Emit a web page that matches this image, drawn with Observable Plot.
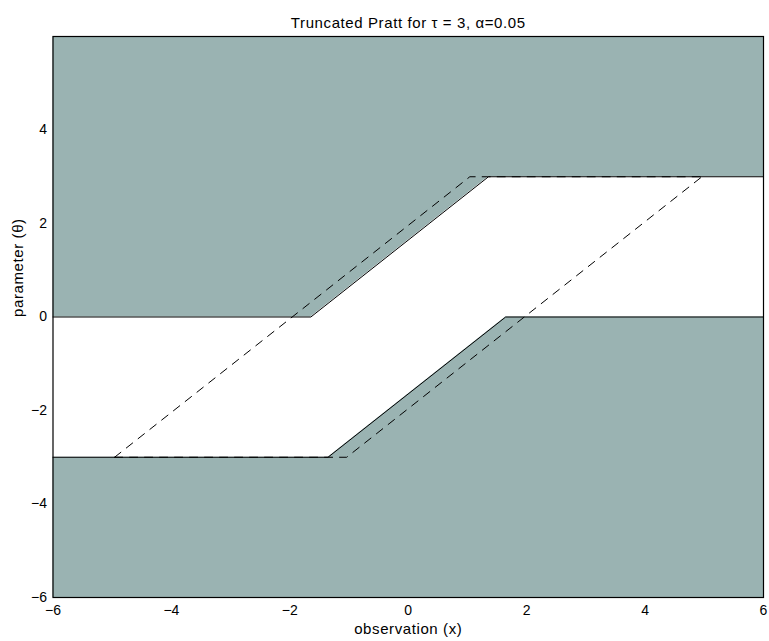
<!DOCTYPE html>
<html>
<head>
<meta charset="utf-8">
<script src="https://cdn.jsdelivr.net/npm/d3@7"></script>
<script src="https://cdn.jsdelivr.net/npm/@observablehq/plot@0.6"></script>
<style>
  html, body { margin: 0; padding: 0; background: #fff; }
  svg { display: block; }
  .lbl text { letter-spacing: 0.6px; }
</style>
</head>
<body>
<div id="chart"></div>
<script>
// Upper rejection region boundary (shaded above)
const upperX = [-6, -1.645, 1.355, 6];
const upperY = [0, 0, 3, 3];
// Lower rejection region boundary (shaded below)
const lowerX = [-6, -1.355, 1.645, 6];
const lowerY = [-3, -3, 0, 0];
// Dashed reference intervals
const dashAX = [-4.96, 1.04, 4.96];
const dashAY = [-3, 3, 3];
const dashBX = [-4.96, -1.04, 4.96];
const dashBY = [-3, -3, 3];
const xTicks = [-6, -4, -2, 0, 2, 4, 6];
const yTicks = [-6, -4, -2, 0, 2, 4];
const titleText = "Truncated Pratt for \u03c4 = 3, \u03b1=0.05";
const xLabel = "observation (x)";
const yLabel = "parameter (\u03b8)";

const upper = upperX.map((x, i) => ({x, y: upperY[i]}));
const lower = lowerX.map((x, i) => ({x, y: lowerY[i]}));
const dashA = dashAX.map((x, i) => ({x, y: dashAY[i]}));
const dashB = dashBX.map((x, i) => ({x, y: dashBY[i]}));

const fill = "#9ab3b2";
const font = "'Liberation Sans', Arial, Helvetica, sans-serif";
const fmt = d => d < 0 ? "\u2212" + Math.abs(d) : String(d);

const chart = Plot.plot({
  width: 769,
  height: 641,
  marginLeft: 52.5,
  marginRight: 6,
  marginTop: 36,
  marginBottom: 44,
  style: {fontFamily: font, fontSize: "14px", color: "#000", background: "#fff"},
  x: {domain: [-6, 6]},
  y: {domain: [-6, 6]},
  marks: [
    Plot.areaY(upper, {x: "x", y1: "y", y2: 6, fill, curve: "linear"}),
    Plot.areaY(lower, {x: "x", y1: -6, y2: "y", fill, curve: "linear"}),
    Plot.line(upper, {x: "x", y: "y", stroke: "#000", strokeWidth: 1}),
    Plot.line(lower, {x: "x", y: "y", stroke: "#000", strokeWidth: 1}),
    Plot.line(dashA, {x: "x", y: "y", stroke: "#000", strokeWidth: 1, strokeDasharray: "8,7"}),
    Plot.line(dashB, {x: "x", y: "y", stroke: "#000", strokeWidth: 1, strokeDasharray: "8,7"}),
    Plot.frame({stroke: "#000", strokeWidth: 1.2}),
    Plot.axisX(xTicks, {tickSize: 0, tickPadding: 8, label: null, fontSize: 14, tickFormat: fmt}),
    Plot.axisY(yTicks, {tickSize: 0, tickPadding: 6, label: null, fontSize: 14, tickFormat: fmt}),
    Plot.text([titleText], {frameAnchor: "top", dy: -19, fontSize: 15, className: "lbl", text: d => d}),
    Plot.text([xLabel], {frameAnchor: "bottom", dy: 36, fontSize: 15, className: "lbl", text: d => d}),
    Plot.text([yLabel], {frameAnchor: "left", dx: -35, rotate: -90, fontSize: 15, className: "lbl", text: d => d})
  ]
});
document.getElementById("chart").appendChild(chart);
</script>
</body>
</html>
